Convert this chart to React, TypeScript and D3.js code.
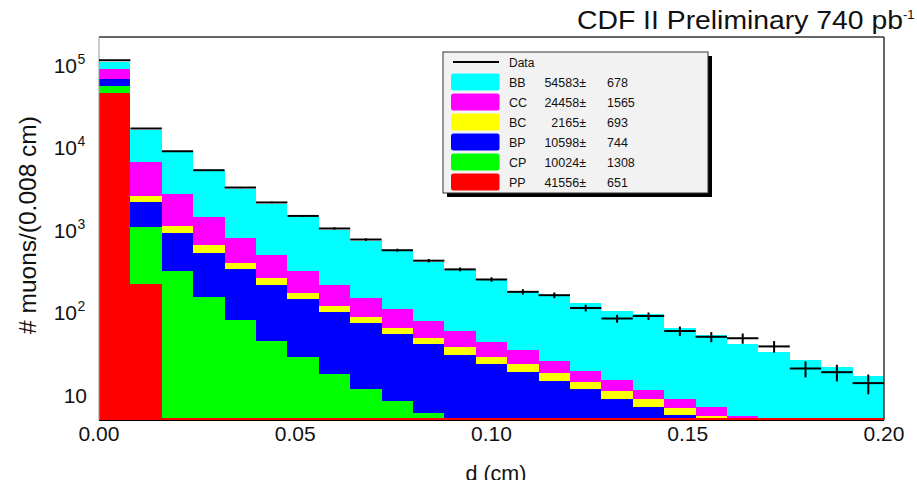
import React from "react";
import * as d3 from "d3";

// ---- data (bins of 0.008 cm from 0 to 0.2) ----
const BIN_WIDTH = 0.008;
const binStarts = d3.range(25).map((i) => i * BIN_WIDTH);

const PP = [46700, 220, 0, 0, 0, 0, 0, 0, 0, 0, 0, 0, 0, 0, 0, 0, 0, 0, 0, 0, 0, 0, 0, 0, 0];
const CP = [9400, 877, 321, 155, 81, 46, 29, 18, 12, 8.5, 6, 0, 0, 0, 0, 0, 0, 0, 0, 0, 0, 0, 0, 0, 0];
const BP = [11500, 1073, 606, 375, 253, 169, 116, 84, 62, 46, 35.5, 31, 24, 19, 15, 12, 9, 7.2, 5.7, 3, 2, 0, 0, 0, 0];
const BC = [1000, 410, 191, 128, 67, 45, 30, 19, 13.5, 11, 8, 7.4, 5, 4.8, 3.5, 2.3, 2.1, 1.7, 1.2, 2.6, 1, 0, 0, 0, 0];
const CC = [20900, 4150, 1666, 792, 414, 238, 147, 94, 65, 44, 30, 22, 15, 11.5, 7.7, 5.4, 4, 2.8, 2.2, 1.6, 2.6, 0, 0, 0, 0];
const BB = [20100, 9870, 6036, 3740, 2369, 1597, 1117, 799, 593, 447, 335, 267, 211, 150, 134, 110, 90, 86, 57, 46, 36, 33.5, 27, 21.7, 17];
const DATA = [115000, 17100, 9070, 5340, 3290, 2170, 1490, 1050, 771, 572, 427, 335, 253, 179, 163, 114, 85, 91, 60, 51, 49, 39, 21, 19, 14];

const seriesKeys = ["PP", "CP", "BP", "BC", "CC", "BB"];
const seriesColors: Record<string, string> = {
  PP: "#ff0000",
  CP: "#00ff00",
  BP: "#0000ff",
  BC: "#ffff00",
  CC: "#ff00ff",
  BB: "#00ffff",
};
const legendKeys = ["BB", "CC", "BC", "BP", "CP", "PP"];
const legendValues = ["54583", "24458", "2165", "10598", "10024", "41556"];
const legendErrors = ["678", "1565", "693", "744", "1308", "651"];

const xTicks = [0, 0.05, 0.1, 0.15, 0.2];
const yTicks = [10, 100, 1000, 10000, 100000];

const FONT = "'Liberation Sans', Arial, Helvetica, sans-serif";

export default function App() {
  const W = 917;
  const H = 480;
  const left = 99, right = 884, top = 37, bottom = 420;
  const YMIN = 5, YMAX = 2.2e5;
  const x = d3.scaleLinear().domain([0, 0.2]).range([left, right]);
  const y = d3.scaleLog().domain([YMIN, YMAX]).range([bottom, top]);

  const table = binStarts.map((b, i) => ({
    PP: PP[i], CP: CP[i], BP: BP[i], BC: BC[i], CC: CC[i], BB: BB[i],
  }));
  const stacked = d3.stack<any>().keys(seriesKeys)(table);

  const rects: JSX.Element[] = [];
  stacked.forEach((layer) => {
    const key = layer.key;
    layer.forEach((d, i) => {
      const lo = Math.max(d[0], YMIN);
      const hi = d[1];
      if (hi <= YMIN || hi <= lo) return;
      const x0 = Math.round(x(binStarts[i]));
      const x1 = Math.round(x(binStarts[i] + BIN_WIDTH));
      const yTop = Math.round(y(hi));
      const yBot = Math.round(y(lo));
      if (yBot <= yTop) return;
      rects.push(
        <rect
          key={key + i}
          x={x0}
          y={yTop}
          width={x1 - x0}
          height={yBot - yTop}
          fill={seriesColors[key]}
          shapeRendering="crispEdges"
        />
      );
    });
  });

  // red outline at minimum where PP is below the axis minimum
  const redSegs = binStarts
    .map((b, i) => ({ b, v: PP[i] }))
    .filter((d) => d.v < YMIN)
    .map((d, i) => (
      <line key={"r" + i} x1={x(d.b)} x2={x(d.b + BIN_WIDTH)} y1={bottom - 1} y2={bottom - 1} stroke="#ff0000" strokeWidth={2} shapeRendering="crispEdges" />
    ));

  const dataMarks = DATA.map((v, i) => {
    const x0 = x(binStarts[i]);
    const x1 = x(binStarts[i] + BIN_WIDTH);
    const xc = (x0 + x1) / 2;
    const e = Math.sqrt(v);
    return (
      <g key={"d" + i}>
        <line x1={x0} x2={x1} y1={y(v)} y2={y(v)} stroke="#000" strokeWidth={2} />
        <line x1={xc} x2={xc} y1={y(v + e)} y2={y(Math.max(v - e, YMIN))} stroke="#000" strokeWidth={2} />
      </g>
    );
  });

  const legX = 443, legY = 52, legW = 265, legH = 141;
  const rowY = (k: number) => 62 + k * 20;

  return (
    <svg width={W} height={H} style={{ position: "absolute", left: 0, top: 0, display: "block", background: "#fff" }} fontFamily={FONT}>
      <rect x={0} y={0} width={W} height={H} fill="#fff" />
      {/* Title */}
      <text x={577} y={28.5} fontSize={25} fill="#111" textLength={326} lengthAdjust="spacingAndGlyphs">
        CDF II Preliminary 740 pb
      </text>
      <text x={903} y={19} fontSize={13} fill="#111">-1</text>

      {/* stacked fills */}
      {rects}

      {/* frame */}
      <line x1={left} x2={right} y1={top} y2={top} stroke="#333" strokeWidth={1.5} />
      <line x1={right} x2={right} y1={top} y2={bottom} stroke="#333" strokeWidth={1.5} />
      <line x1={left} x2={left} y1={top} y2={bottom} stroke="#999" strokeWidth={1} />
      <line x1={left} x2={right} y1={bottom + 0.5} y2={bottom + 0.5} stroke="#000" strokeWidth={1} />
      {redSegs}

      {/* data */}
      {dataMarks}

      {/* legend */}
      <rect x={legX + 4} y={legY + 4} width={legW} height={legH} fill="#000" />
      <rect x={legX} y={legY} width={legW} height={legH} fill="#f2f2f2" stroke="#333" strokeWidth={1} />
      <line x1={453} x2={499} y1={rowY(0)} y2={rowY(0)} stroke="#000" strokeWidth={2} />
      <text x={509} y={rowY(0) + 4.5} fontSize={12} fill="#111">Data</text>
      {legendKeys.map((k, i) => {
        const cy = rowY(i + 1);
        return (
          <g key={"l" + k}>
            <rect x={451} y={cy - 8.5} width={48.5} height={17} rx={2.5} fill={seriesColors[k]} />
            <text x={509} y={cy + 4.5} fontSize={12.5} fill="#111">{k}</text>
            <text x={586} y={cy + 4.5} fontSize={12.5} fill="#111" textAnchor="end">{legendValues[i] + "\u00b1"}</text>
            <text x={607} y={cy + 4.5} fontSize={12.5} fill="#111">{legendErrors[i]}</text>
          </g>
        );
      })}

      {/* x ticks labels */}
      {xTicks.map((t) => (
        <text key={"x" + t} x={x(t)} y={441} fontSize={21} textAnchor="middle" fill="#111">
          {t.toFixed(2)}
        </text>
      ))}
      <text x={496} y={481} fontSize={21.5} textAnchor="middle" fill="#111">d (cm)</text>

      {/* y tick labels */}
      {yTicks.map((t) => {
        const p = Math.round(Math.log10(t));
        const yy = y(t) + 7.5;
        if (p === 1) {
          return (
            <text key={"y" + t} x={87} y={yy} fontSize={21} textAnchor="end" fill="#111">10</text>
          );
        }
        return (
          <g key={"y" + t}>
            <text x={77} y={yy} fontSize={21} textAnchor="end" fill="#111">10</text>
            <text x={77.5} y={yy - 9} fontSize={14} textAnchor="start" fill="#111">{p}</text>
          </g>
        );
      })}
      <text
        transform={`translate(36,225) rotate(-90)`}
        fontSize={24.5}
        textAnchor="middle"
        fill="#111"
      >
        # muons/(0.008 cm)
      </text>
    </svg>
  );
}
